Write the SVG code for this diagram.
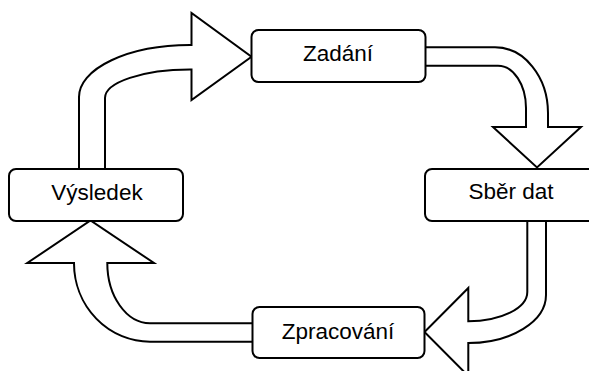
<svg xmlns="http://www.w3.org/2000/svg" width="589" height="371" viewBox="0 0 589 371">
<style>
.arrow{fill:#fff;stroke:#000;stroke-width:2;stroke-linejoin:miter}
.box{fill:#fff;stroke:#000;stroke-width:2}
.lbl{font-family:"Liberation Sans",Arial,sans-serif;font-size:22.5px;fill:#000;text-anchor:middle}
</style>
<rect width="589" height="371" fill="#fff"/>
<g id="connectors">
<path class="arrow" d="M79,175 L79,97 A111,52 0 0 1 190,45 L191.5,45 L191.5,13 L251.5,56.7 L191.5,100 L191.5,69.5 L190,69.5 A85,28.5 0 0 0 105,98 L105,175 Z"/>
<path class="arrow" d="M420,47.3 L495,47.3 A53,66 0 0 1 548,113 L548,127 L581,127 L537,167.5 L493,127 L526,127 L526,108 A28,42.3 0 0 0 498,65.7 L420,65.7 Z"/>
<path class="arrow" d="M527.3,215 L527.3,292 A59,29.3 0 0 1 468.3,321.3 L468.3,288 L424.5,332 L468.3,376 L468.3,343 A78,48 0 0 0 546,295 L546,215 Z"/>
<path class="arrow" d="M258,323.3 L150,323.3 A43,60.3 0 0 1 107.3,263 L154,263 L90.5,220.5 L27.3,263 L74,263 A76,78.7 0 0 0 150,341.7 L258,341.7 Z"/>
</g>
<g id="zadani">
<rect class="box" x="251.5" y="30" width="174" height="52" rx="7"/>
<text class="lbl" x="338" y="61">Zadání</text>
</g>
<g id="sber-dat">
<rect class="box" x="425" y="169" width="174" height="52" rx="7"/>
<text class="lbl" x="511" y="198.5">Sběr dat</text>
</g>
<g id="zpracovani">
<rect class="box" x="252.5" y="307" width="172" height="51" rx="7"/>
<text class="lbl" x="338" y="338.5">Zpracování</text>
</g>
<g id="vysledek">
<rect class="box" x="9" y="169" width="174" height="52" rx="7"/>
<text class="lbl" x="97" y="199.5">Výsledek</text>
</g>
</svg>
